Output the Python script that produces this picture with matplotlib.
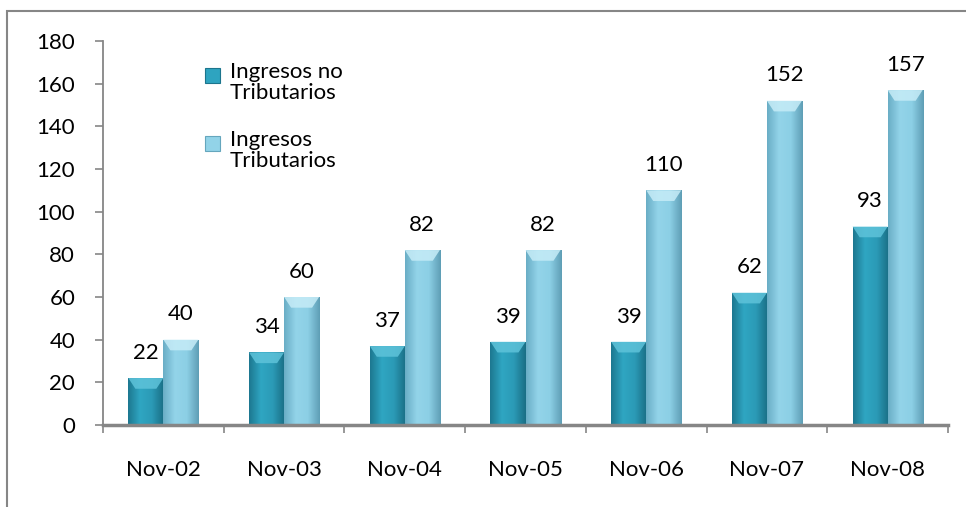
import matplotlib
matplotlib.use("Agg")
import matplotlib.pyplot as plt
from matplotlib.patches import Rectangle
from matplotlib.colors import LinearSegmentedColormap
import numpy as np

plt.rcParams['font.family'] = ['Lato', 'DejaVu Sans']

categories = ['Nov-02', 'Nov-03', 'Nov-04', 'Nov-05', 'Nov-06', 'Nov-07', 'Nov-08']
no_tributarios = [22, 34, 37, 39, 39, 62, 93]
tributarios = [40, 60, 82, 82, 110, 152, 157]
series_names = ['Ingresos no\nTributarios', 'Ingresos\nTributarios']

dark = '#2b9ab6'
light = '#8ccfe5'
gray = '#868686'
fs = 16

fig = plt.figure(figsize=(9.66, 5.07), dpi=100)
W, H = 966, 507
# outer chart frame (clipped on the right and bottom like the source)
fig.patches.append(Rectangle((7 / W, -0.05), 1.1, 1 - 11 / H + 0.05,
                             transform=fig.transFigure, fill=False,
                             edgecolor=gray, linewidth=1.5))

ax = fig.add_axes([103 / W, 1 - 425 / H, (948 - 103) / W, (425 - 41) / H])

x = np.arange(len(categories))
w = 0.29
b1 = ax.bar(x - w / 2, no_tributarios, w, color=dark, linewidth=0, zorder=2)
b2 = ax.bar(x + w / 2, tributarios, w, color=light, linewidth=0, zorder=2)

# cylinder-like shading across each bar, lighter bevel on top
cmaps = [LinearSegmentedColormap.from_list('d', ['#1d7890', '#2fa6c2', '#2b9ab6', '#1a6f86']),
         LinearSegmentedColormap.from_list('l', ['#6aaec6', '#93d4e9', '#8ccfe5', '#5f9fb6'])]
caps = ['#5ec3da', '#c6ecf7']
grad = np.linspace(0, 1, 64).reshape(1, -1)
for bars, cmap, cap in zip((b1, b2), cmaps, caps):
    for r in bars:
        x0, x1 = r.get_x(), r.get_x() + r.get_width()
        h = r.get_height()
        im = ax.imshow(grad, cmap=cmap, extent=(x0, x1, 0, h), aspect='auto', zorder=2.5)
        im.set_clip_path(r)
        ch = min(5, h * 0.25)
        ax.fill([x0, x1, x1 - r.get_width() * 0.2, x0 + r.get_width() * 0.2],
                [h, h, h - ch, h - ch], color=cap, lw=0, alpha=0.85, zorder=3)

for bars in (b1, b2):
    for r in bars:
        ax.annotate(f'{int(r.get_height())}', (r.get_x() + r.get_width() / 2, r.get_height()),
                    xytext=(0, 11), textcoords='offset points', ha='center', va='bottom',
                    fontsize=fs)

ax.set_xlim(-0.5, len(categories) - 0.5)
ax.set_ylim(0, 180)
ax.set_yticks(range(0, 181, 20))
ax.set_xticks(x)
ax.set_xticklabels(categories)
ax.set_xticks(np.arange(-0.5, len(categories)), minor=True)
ax.tick_params(axis='x', which='major', length=0, pad=25, labelsize=fs)
ax.tick_params(axis='x', which='minor', length=6, color=gray, width=1.2)
ax.tick_params(axis='y', length=6, color=gray, width=1.2, labelsize=fs, pad=14)

for s in ('top', 'right'):
    ax.spines[s].set_visible(False)
ax.spines['left'].set_color(gray)
ax.spines['left'].set_linewidth(1.3)
ax.spines['bottom'].set_color(gray)
ax.spines['bottom'].set_linewidth(2.5)

# legend: square aligned with the first line of each two-line label
legend_rows = [75, 143]
for name, cmap, yc in zip(series_names, cmaps, legend_rows):
    fig.patches.append(Rectangle((205 / W, 1 - (yc + 8) / H), 15 / W, 15 / H,
                                 transform=fig.transFigure, facecolor=cmap(0.4),
                                 edgecolor=cmap(0.95), linewidth=0.8))
    fig.text(230 / W, 1 - (yc - 13) / H, name, fontsize=fs, va='top', ha='left',
             linespacing=1.05)

fig.savefig('out.png', dpi=100)
